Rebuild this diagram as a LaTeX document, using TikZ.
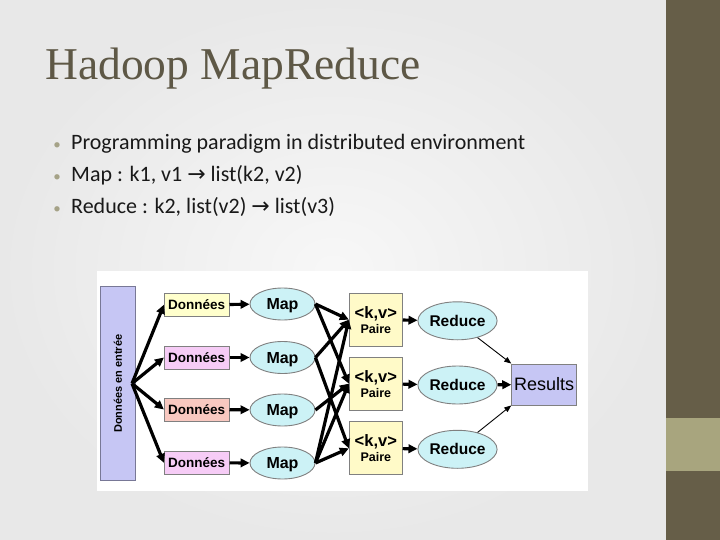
\documentclass[tikz,border=0pt]{standalone}
\usepackage{fontspec}
\setmainfont{Liberation Sans}
\newfontfamily\titlefont{Liberation Serif}
\newfontfamily\bodyfont{Carlito}
\newfontfamily\symfont{DejaVu Sans}
\usetikzlibrary{arrows.meta,shapes.geometric}
\definecolor{bardark}{RGB}{102,94,72}
\definecolor{barlight}{RGB}{168,165,126}
\definecolor{titlecol}{RGB}{94,88,70}
\definecolor{textcol}{RGB}{25,25,25}
\definecolor{bulletcol}{RGB}{165,162,135}
\definecolor{lavender}{RGB}{198,198,244}
\definecolor{lavborder}{RGB}{120,120,150}
\definecolor{yellowbox}{RGB}{255,255,204}
\definecolor{pinkbox}{RGB}{246,204,246}
\definecolor{salmonbox}{RGB}{248,200,192}
\definecolor{cyanell}{RGB}{204,242,246}
\definecolor{paireyellow}{RGB}{255,250,200}
\definecolor{boxborder}{RGB}{128,128,128}
\tikzset{
  donbox/.style={draw=boxborder, line width=0.9pt, rectangle, minimum width=64.7pt, minimum height=23pt, inner sep=0pt, font=\fontsize{13.5}{15}\selectfont\bfseries},
  mapell/.style={draw=boxborder, line width=0.9pt, ellipse, fill=cyanell, minimum width=65pt, minimum height=32pt, inner sep=0pt, text depth=0pt, font=\fontsize{16}{18}\selectfont\bfseries},
  redell/.style={draw=boxborder, line width=0.9pt, ellipse, fill=cyanell, minimum width=65pt, minimum height=38pt, inner sep=0pt, font=\fontsize{15.5}{18}\selectfont\bfseries},
  pairebox/.style={draw=boxborder, line width=0.9pt, rectangle, fill=paireyellow, minimum width=53pt, minimum height=53pt, inner sep=0pt, align=center},
  conn/.style={line width=3.2pt, -{Triangle[length=9pt,width=8.5pt]}},
  thinconn/.style={line width=0.9pt, -{Triangle[length=7pt,width=5.5pt]}},
  bodytext/.style={anchor=base west, inner sep=0pt, text=textcol, font=\bodyfont\fontsize{22}{26}\selectfont},
  bulletmark/.style={anchor=base, inner sep=0pt, text=bulletcol, font=\bodyfont\fontsize{15}{18}\selectfont},
}
\newcommand{\myarrow}{{\symfont\fontsize{22}{26}\selectfont →}}
\newcommand{\pairetext}{{\fontsize{16.5}{19}\selectfont\bfseries <k,v>}\\[3pt]{\fontsize{12.5}{15}\selectfont\bfseries Paire}}
\begin{document}
\begin{tikzpicture}[x=1pt,y=-1pt]
\useasboundingbox (0,0) rectangle (720,540);
% background
\shade[inner color=white!97!black, outer color=white!91!black] (0,0) rectangle (666,540);
\fill[bardark] (666,0) rectangle (720,540);
\fill[barlight] (666,418) rectangle (720,471);
% title
\node[anchor=base west, inner sep=0pt, text=titlecol, font=\titlefont\fontsize{45.5}{52}\selectfont] (title) at (45,80) {Hadoop MapReduce};
% bullets
\node[bulletmark] (m1) at (57,150) {•};
\node[bodytext] (b1) at (71,150) {Programming paradigm in distributed environment};
\node[bulletmark] (m2) at (57,182) {•};
\node[bodytext] (b2) at (71,182) {Map : k1, v1 \myarrow{} list(k2, v2)};
\node[bulletmark] (m3) at (57,214) {•};
\node[bodytext] (b3) at (71,214) {Reduce : k2, list(v2) \myarrow{} list(v3)};
% diagram area
\fill[white] (97,271) rectangle (588,491);
% input box
\node[draw=lavborder, line width=0.9pt, fill=lavender, rotate=90, minimum width=194pt, minimum height=35.7pt, inner sep=0pt, font=\fontsize{11}{13}\selectfont\bfseries] (in) at (118,383.7) {Données en entrée};
\coordinate (fan) at (132,383.5);
% données
\node[donbox, fill=yellowbox] (d1) at (196.7,304.7) {Données};
\node[donbox, fill=pinkbox] (d2) at (196.7,357.5) {Données};
\node[donbox, fill=salmonbox] (d3) at (196.7,409.5) {Données};
\node[donbox, fill=pinkbox] (d4) at (196.7,462.8) {Données};
% maps
\node[mapell] (map1) at (282.5,304) {Map};
\node[mapell] (map2) at (282.5,357.5) {Map};
\node[mapell] (map3) at (282.5,410) {Map};
\node[mapell] (map4) at (282.5,463) {Map};
% paires
\node[pairebox] (p1) at (375.8,319.7) {\pairetext};
\node[pairebox] (p2) at (375.8,383.7) {\pairetext};
\node[pairebox] (p3) at (375.8,448.3) {\pairetext};
% reduces
\node[redell] (r1) at (457.5,320.8) {Reduce};
\node[redell] (r2) at (457.5,385) {Reduce};
\node[redell] (r3) at (457.5,449.3) {Reduce};
% results
\node[draw=boxborder, line width=0.9pt, fill=lavender, minimum width=65pt, minimum height=41pt, inner sep=0pt, font=\fontsize{18}{21}\selectfont] (res) at (544.2,384.5) {Results};
% connectors
\foreach \d in {d1,d2,d3,d4} \draw[conn] (fan) -- (\d.west);
\draw[conn] (d1) -- (map1);
\draw[conn] (d2) -- (map2);
\draw[conn] (d3) -- (map3);
\draw[conn] (d4) -- (map4);
\draw[conn] (map1.east) -- (p1.west);
\draw[conn] (map1.east) -- (p2.west);
\draw[conn] (map2.east) -- (p1.west);
\draw[conn] (map2.east) -- (p3.west);
\draw[conn] (map3.east) -- (p2.west);
\draw[conn] (map4.east) -- (p1.west);
\draw[conn] (map4.east) -- (p2.west);
\draw[conn] (map4.east) -- (p3.west);
\draw[conn] (p1) -- (r1);
\draw[conn] (p2) -- (r2);
\draw[conn] (p3) -- (r3);
\draw[thinconn] (r1.-40) -- (res.north west);
\draw[conn] (r2) -- (res);
\draw[thinconn] (r3.40) -- (res.south west);
\end{tikzpicture}
\end{document}
